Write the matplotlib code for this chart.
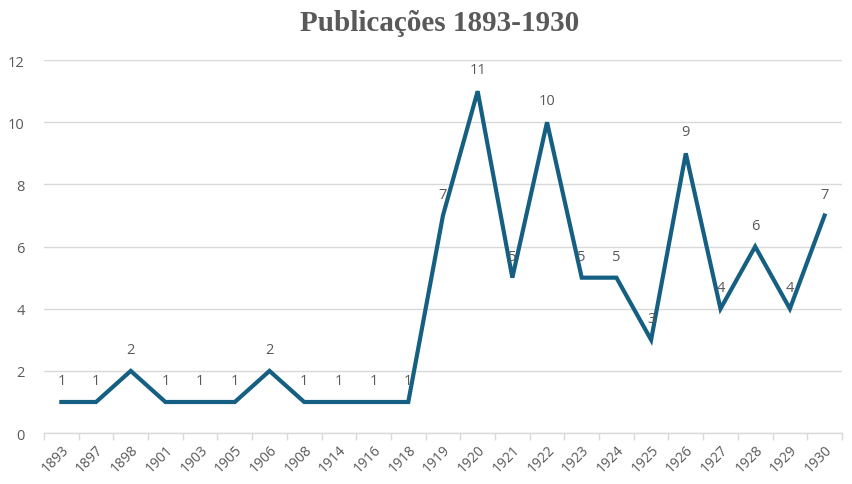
import numpy as np
import matplotlib
matplotlib.use("Agg")
import matplotlib.pyplot as plt

years = ["1893", "1897", "1898", "1901", "1903", "1905", "1906", "1908", "1914", "1916", "1918",
         "1919", "1920", "1921", "1922", "1923", "1924", "1925", "1926", "1927", "1928", "1929", "1930"]
counts = [1, 1, 2, 1, 1, 1, 2, 1, 1, 1, 1,
          7, 11, 5, 10, 5, 5, 3, 9, 4, 6, 4, 7]

line_color = "#156082"
text_color = "#595959"
grid_color = "#d9d9d9"

plt.rcParams["font.family"] = ["Open Sans", "DejaVu Sans"]

fig = plt.figure(figsize=(8.53, 4.85), dpi=100)
ax = fig.add_axes([0.0516, 0.105, 0.9354, 0.769])

x = np.arange(len(years))
ax.plot(x, counts, color=line_color, linewidth=3.0, solid_joinstyle="miter", zorder=3)

for xi, v in zip(x, counts):
    ax.annotate(str(v), (xi, v), xytext=(0, 10), textcoords="offset points",
                ha="center", va="bottom", fontsize=10.5, color=text_color)

ax.set_xlim(-0.5, len(years) - 0.5)
ax.set_ylim(0, 12)
ax.set_yticks(range(0, 13, 2))
ax.set_xticks(x)
ax.set_xticklabels(years, rotation=45, ha="right", rotation_mode="anchor",
                   fontsize=10, color=text_color)
ax.set_xticks(np.arange(-0.5, len(years), 1), minor=True)
ax.tick_params(axis="x", which="major", length=0, pad=6)
ax.tick_params(axis="x", which="minor", length=5, color=grid_color, width=1)
ax.tick_params(axis="y", length=0, labelsize=10.5, labelcolor=text_color, pad=14)

ax.grid(axis="y", color=grid_color, linewidth=1)
ax.set_axisbelow(True)
for s in ["top", "right", "left"]:
    ax.spines[s].set_visible(False)
ax.spines["bottom"].set_color(grid_color)
ax.spines["bottom"].set_linewidth(1)

fig.suptitle("Publicações 1893-1930", x=0.515, y=0.98, fontsize=21, fontweight="bold",
             family="Liberation Serif", color=text_color)

fig.savefig("out.png", dpi=100)
